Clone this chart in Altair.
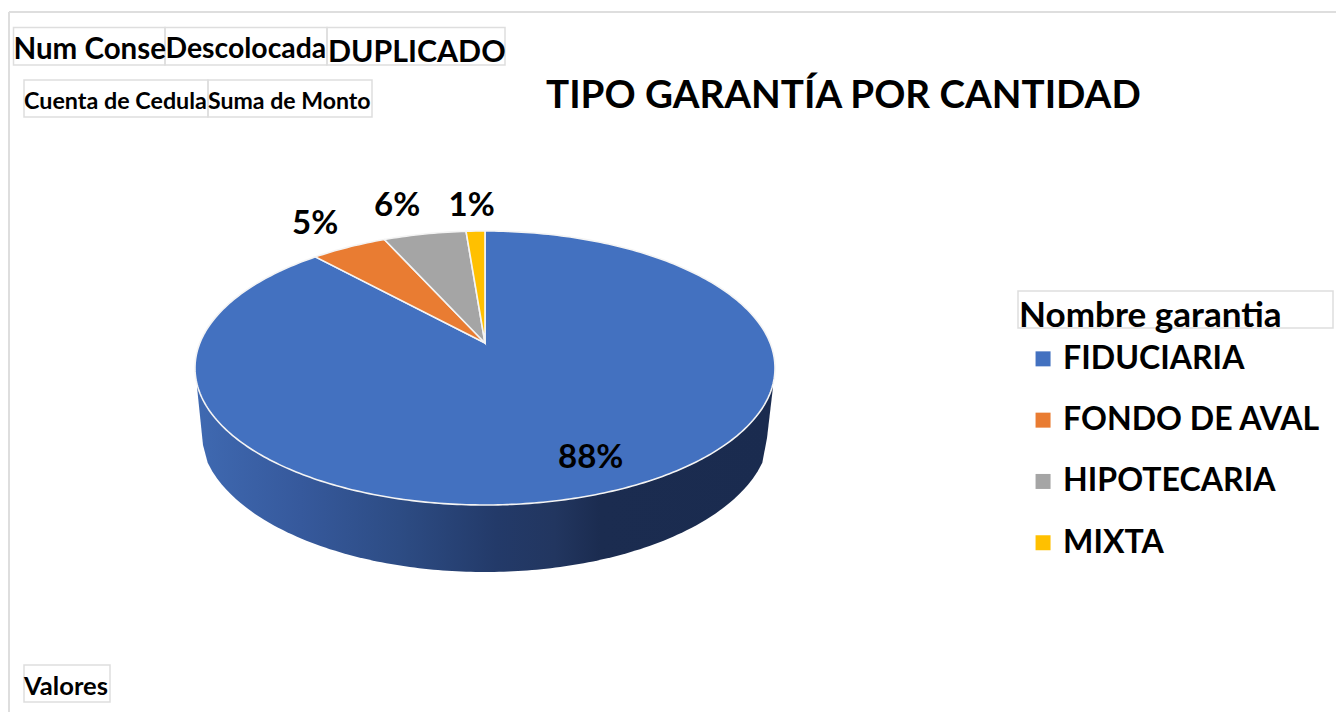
import math
import altair as alt

# ---- data ----
categories = ["FIDUCIARIA", "FONDO DE AVAL", "HIPOTECARIA", "MIXTA"]
percent_labels = ["88%", "5%", "6%", "1%"]
slice_spans = [90.06, 4.3, 4.6, 1.04]   # share of the drawn ellipse rim, clockwise from 12 o'clock
colors = ["#4371C0", "#E97C32", "#A5A5A5", "#FFC000"]
chart_title = "TIPO GARANTÍA POR CANTIDAD"
legend_title = "Nombre garantia"

FONT = "Lato"
M = 8  # page margin
CX, CY, RX, RY = 485, 368, 290, 137
APEX_Y = 343


def rim(t):
    return [CX + RX * math.sin(t), CY - RY * math.cos(t)]


def feature(name, ring):
    return {"type": "Feature", "name": name,
            "geometry": {"type": "Polygon", "coordinates": [ring]}, "properties": {}}


# top-surface slices
slices = []
start = 0.0
for name, span in zip(categories, slice_spans):
    a0, a1 = start / 100 * 2 * math.pi, (start + span) / 100 * 2 * math.pi
    n = max(3, int(span * 4))
    ring = [[CX, APEX_Y]] + [rim(a0 + (a1 - a0) * i / n) for i in range(n + 1)] + [[CX, APEX_Y]]
    slices.append(feature(name, ring))
    start += span

# side wall
LOW_CY, LOW_RY, LOW_RX = 430, 142, 285
left_x, right_x = 203, 767
wall = [[197, 387], [left_x, 445]]
for i in range(1, 120):
    x = left_x + (right_x - left_x) * i / 120
    wall.append([x, LOW_CY + LOW_RY * math.sqrt(max(0, 1 - ((x - CX) / LOW_RX) ** 2))])
wall += [[right_x, 438], [773, 387], [197, 387]]

PROJ = dict(type="identity", scale=1, translate=[-M, -M])

wall_gradient = alt.Gradient(
    gradient="linear", x1=0, x2=1, y1=0, y2=0,
    stops=[
        alt.GradientStop(offset=0, color="#3F69B1"),
        alt.GradientStop(offset=0.18, color="#36599C"),
        alt.GradientStop(offset=0.35, color="#2D4C84"),
        alt.GradientStop(offset=0.52, color="#233A69"),
        alt.GradientStop(offset=0.62, color="#223660"),
        alt.GradientStop(offset=0.70, color="#1B2C50"),
        alt.GradientStop(offset=1, color="#1A2B4F"),
    ],
)

wall_layer = alt.Chart(alt.Data(values=[feature("wall", wall)])).mark_geoshape(
    fill=wall_gradient, strokeWidth=0
).project(**PROJ)

slice_layer = alt.Chart(alt.Data(values=slices)).mark_geoshape(
    stroke="#F4F4F4", strokeWidth=1.6
).encode(
    color=alt.Color(
        "name:N",
        sort=categories,
        scale=alt.Scale(domain=categories, range=colors),
        legend=alt.Legend(
            title=legend_title, orient="none", legendX=1011, legendY=291,
            symbolType="square", symbolSize=225, symbolStrokeWidth=0, symbolOpacity=1,
            symbolOffset=8, labelOffset=4,
            titleFont=FONT, titleFontSize=35.1, titleFontWeight="bold", titleColor="#000000",
            titlePadding=8.7, titleLimit=400,
            labelFont=FONT, labelFontSize=32.1, labelFontWeight="bold", labelColor="#000000",
            labelLimit=400, rowPadding=28.3,
        ),
    )
).project(**PROJ)


def box(x0, y0, x1, y1, color="#DEDEDE", width=1.5):
    return alt.Chart(alt.Data(values=[{"k": 1}])).mark_rect(
        fillOpacity=0, stroke=color, strokeWidth=width
    ).encode(
        x=alt.value(x0 - M), x2=alt.value(x1 - M), y=alt.value(y0 - M), y2=alt.value(y1 - M)
    )


def frame_line(**channels):
    return alt.Chart(alt.Data(values=[{"k": 1}])).mark_rule(
        color="#DEDEDE", strokeWidth=2
    ).encode(**channels)


def label(text, x, y, size, align="left"):
    return alt.Chart(alt.Data(values=[{"t": text}])).mark_text(
        font=FONT, fontWeight="bold", fontSize=size, color="#000000",
        align=align, baseline="alphabetic"
    ).encode(text="t:N", x=alt.value(x - M), y=alt.value(y - M))


layers = [
    frame_line(x=alt.value(1), x2=alt.value(1328), y=alt.value(12 - M)),
    frame_line(x=alt.value(1), y=alt.value(12 - M), y2=alt.value(704)),
    box(13.5, 27.5, 165, 65), box(165, 27.5, 327, 65), box(327, 27.5, 505, 65),
    box(24, 80, 208, 117), box(208, 80, 372, 117),
    box(24, 665, 110, 702), box(1018, 291, 1333, 328),
    wall_layer, slice_layer,
    label("Num Conse", 13.5, 59, 29.5), label("Descolocada", 165.5, 58, 28.4),
    label("DUPLICADO", 328, 62, 30.3),
    label("Cuenta de Cedula", 24, 109, 23.3), label("Suma de Monto", 208, 109, 23.1),
    label("Valores", 24, 695, 25.6),
    label(chart_title, 546, 108, 38.6),
    label(percent_labels[0], 558, 468, 33),
    label(percent_labels[1], 292, 234, 33),
    label(percent_labels[2], 374, 216, 33),
    label(percent_labels[3], 448.5, 216, 33),
]

chart = alt.layer(*layers).properties(
    width=1328, height=704, padding=0, background="#FFFFFF",
    autosize=alt.AutoSizeParams(type="none")
).configure_view(stroke=None)

chart.save("out.html", embed_options={"renderer": "svg", "actions": False})
